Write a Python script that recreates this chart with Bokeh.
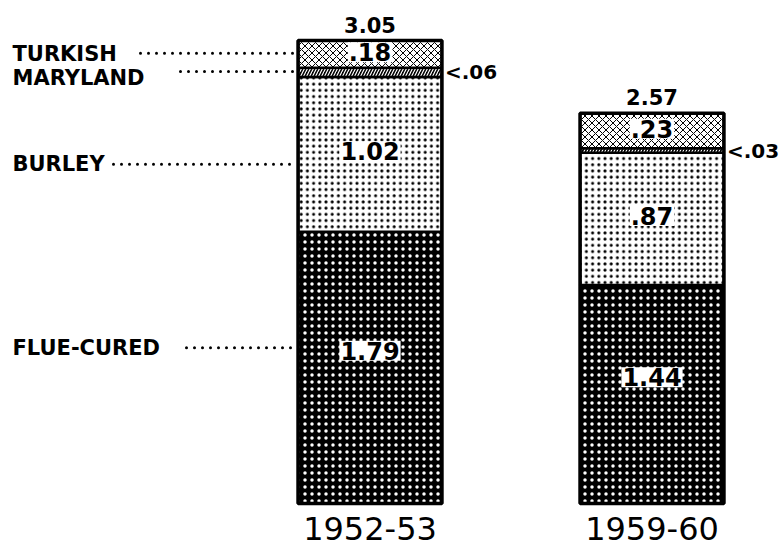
from bokeh.plotting import figure
from bokeh.models import ColumnDataSource, Range1d
from bokeh.core.properties import value
from bokeh.embed import file_html
from bokeh.resources import INLINE

# ---- data ----
years = ["1952-53", "1959-60"]
types = ["FLUE-CURED", "BURLEY", "MARYLAND", "TURKISH"]   # bottom to top
flue_cured = [1.79, 1.44]
burley = [1.02, 0.87]
maryland = [0.06, 0.03]
turkish = [0.18, 0.23]
totals = [3.05, 2.57]
flue_labels = ["1.79", "1.44"]
burley_labels = ["1.02", ".87"]
maryland_labels = ["<.06", "<.03"]
turkish_labels = [".18", ".23"]
total_labels = ["3.05", "2.57"]

series = [flue_cured, burley, maryland, turkish]
series_labels = [flue_labels, burley_labels, maryland_labels, turkish_labels]

# ---- layout ----
W, H = 780, 548
XPPU = 282.0
X0, X1 = -369.5 / XPPU, (W - 369.5) / XPPU
Y0, Y1 = (503 - H) / 151.8, 503 / 151.8
PPU = H / (Y1 - Y0)          # pixels per unit on y
BAR_W = 0.51

FONT = value("DejaVu Sans")

p = figure(width=W, height=H, x_range=Range1d(X0, X1), y_range=Range1d(Y0, Y1),
           output_backend="svg", toolbar_location=None, min_border=0,
           outline_line_color=None, background_fill_color="white",
           border_fill_color="white")
p.axis.visible = False
p.grid.visible = False

styles = {
    "FLUE-CURED": dict(fill_color="black", hatch_pattern=".", hatch_color="white",
                       hatch_weight=1.2, hatch_scale=7),
    "BURLEY": dict(fill_color="white", hatch_pattern=".", hatch_color="black",
                   hatch_weight=1.4, hatch_scale=6.2),
    "MARYLAND": dict(fill_color="black", hatch_pattern="/", hatch_color="white",
                     hatch_weight=1.2, hatch_scale=6),
    "TURKISH": dict(fill_color="white", hatch_pattern="x", hatch_color="black",
                    hatch_weight=1, hatch_scale=7),
}

xs = list(range(len(years)))
bottoms = [0.0] * len(years)
centers = {}
for name, vals in zip(types, series):
    tops = [b + v for b, v in zip(bottoms, vals)]
    src = ColumnDataSource(dict(x=xs, bottom=bottoms, top=tops))
    p.vbar(x="x", bottom="bottom", top="top", width=BAR_W, source=src,
           line_color="black", line_width=2.5, **styles[name])
    centers[name] = [(b + t) / 2 for b, t in zip(bottoms, tops)]
    bottoms = tops

# outer outline of bars
p.vbar(x=xs, bottom=0, top=totals, width=BAR_W, fill_color=None,
       line_color="black", line_width=3.5)

# in-bar value labels (white boxes)
inbar_dy = {"FLUE-CURED": -17, "BURLEY": -3, "TURKISH": -2}
for name, labs in zip(types, series_labels):
    if name == "MARYLAND":
        continue
    src = ColumnDataSource(dict(x=xs, y=centers[name], t=labs))
    p.text(x="x", y="y", text="t", source=src, text_align="center",
           text_baseline="middle", y_offset=inbar_dy[name],
           text_font=FONT, text_font_style="bold", text_font_size="24px",
           text_color="black", background_fill_color="white", padding=1)

# maryland side labels
src = ColumnDataSource(dict(x=[x + BAR_W / 2 for x in xs], y=centers["MARYLAND"],
                            t=maryland_labels))
p.text(x="x", y="y", text="t", source=src, text_align="left",
       text_baseline="middle", x_offset=3, text_font=FONT,
       text_font_style="bold", text_font_size="20px", text_color="black")

# totals
src = ColumnDataSource(dict(x=xs, y=totals, t=total_labels))
p.text(x="x", y="y", text="t", source=src, text_align="center",
       text_baseline="middle", y_offset=-16, text_font=FONT,
       text_font_style="bold", text_font_size="21px", text_color="black")

# year labels
src = ColumnDataSource(dict(x=xs, y=[0, 0], t=years))
p.text(x="x", y="y", text="t", source=src, text_align="center",
       text_baseline="middle", y_offset=25, text_font=FONT,
       text_font_size="32px", text_color="black")

# left category labels with dotted leaders (first bar)
label_x = X0 + 12 / XPPU
label_dy = {"TURKISH": 0, "MARYLAND": 6, "BURLEY": 10, "FLUE-CURED": -20}
dot_dy = {"TURKISH": -1, "MARYLAND": -1, "BURLEY": 10, "FLUE-CURED": -20}
dot_start_px = {"TURKISH": 140, "MARYLAND": 180, "BURLEY": 113, "FLUE-CURED": 186}
for name in types:
    yc = centers[name][0]
    p.text(x=[label_x], y=[yc], text=[name], text_align="left",
           text_baseline="middle", y_offset=label_dy[name], text_font=FONT,
           text_font_style="bold", text_font_size="21px", text_color="black")
    yd = yc - dot_dy[name] / PPU
    xstart = X0 + dot_start_px[name] / XPPU
    p.segment(x0=[xstart], y0=[yd], x1=[-BAR_W / 2 - 3 / XPPU], y1=[yd],
              line_color="black", line_width=3, line_dash="0 8",
              line_cap="round")

open("out.html", "w").write(file_html(p, INLINE))
